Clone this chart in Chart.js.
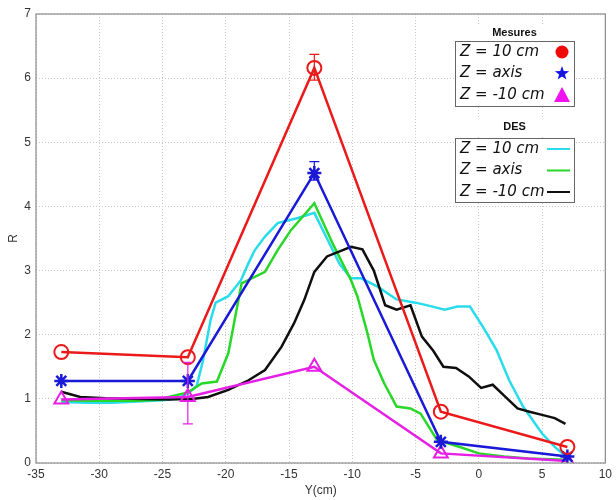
<!DOCTYPE html>
<html><head><meta charset="utf-8">
<script src="https://cdn.jsdelivr.net/npm/chart.js@4/dist/chart.umd.min.js"></script>
<style>html,body{margin:0;padding:0;background:#fff}#wrap{width:616px;height:500px}</style>
</head><body><div id="wrap"><canvas id="c" width="616" height="500"></canvas></div>
<script>
// Measurements
const mesX = [-33, -23, -13, -3, 7];
const mesZ10 = [1.73, 1.65, 6.16, 0.80, 0.25];
const mesAxis = [1.28, 1.28, 4.52, 0.33, 0.10];
const mesZm10 = [0.99, 1.03, 1.50, 0.15, 0.03];
// Error bars [x, low, high]
const errZ10 = [[-13, 5.97, 6.37]];
const errAxis = [[-13, 4.41, 4.70]];
const errZm10 = [[-23, 0.61, 1.57]];
// DES curves
const desZ10X = [-33,-31,-29,-27,-25,-24,-23,-22.3,-21.8,-21.2,-20.8,-19.8,-18.8,-18.2,-17.7,-16.9,-15.9,-14.3,-13,-12,-11,-10.1,-9.3,-8,-6.5,-5,-3.9,-2.7,-1.7,-0.7,0.4,1.4,2.4,3.5,5,6,6.9];
const desZ10Y = [0.95,0.94,0.94,0.96,0.98,1.0,1.08,1.2,1.6,2.23,2.5,2.6,2.85,3.12,3.32,3.53,3.74,3.82,3.9,3.5,3.1,2.88,2.88,2.75,2.55,2.5,2.45,2.39,2.44,2.44,2.1,1.76,1.29,0.88,0.46,0.25,0.1];
const desAxisX = [-33,-31,-29,-27,-25,-24.5,-23,-21.9,-20.7,-19.8,-19.3,-18.75,-16.9,-15.9,-14.85,-13,-11.5,-10.1,-9.6,-8.8,-8.3,-7.5,-6.5,-5.4,-4.6,-3.3,-1.5,0,2,3.9,6.9];
const desAxisY = [0.98,0.97,0.97,0.97,0.99,1.03,1.1,1.24,1.27,1.71,2.23,2.8,2.98,3.32,3.63,4.05,3.4,2.85,2.6,2.02,1.61,1.25,0.88,0.85,0.77,0.36,0.25,0.15,0.1,0.07,0.05];
const desZm10X = [-33,-31.5,-29.5,-27.6,-24.5,-22.5,-21.4,-19.8,-18.2,-16.9,-15.6,-14.6,-13.8,-13,-12,-10.1,-9.2,-8.3,-7.4,-6.5,-5.4,-4.5,-3.6,-2.8,-1.8,-0.8,0.18,1.1,2,3.06,4,5,6,6.85];
const desZm10Y = [1.11,1.03,1.01,1.0,0.99,1.0,1.03,1.14,1.29,1.45,1.81,2.18,2.54,2.98,3.22,3.37,3.33,3.0,2.46,2.39,2.46,1.97,1.75,1.5,1.48,1.35,1.17,1.22,1.05,0.85,0.8,0.75,0.7,0.61];
const xTicks = [-35,-30,-25,-20,-15,-10,-5,0,5,10];
const yTicks = [0,1,2,3,4,5,6,7];
const mesLabels = ['Z = 10 cm', 'Z = axis', 'Z = -10 cm'];
const desLabels = ['Z = 10 cm', 'Z = axis', 'Z = -10 cm'];

const RED='rgb(235,25,25)', BLUE='rgb(25,25,215)', MAG='rgb(230,30,230)';
const CYAN='rgb(40,220,235)', GREEN='rgb(40,215,40)', BLACK='rgb(15,15,15)';

const pts = (xs, ys) => xs.map((x,i)=>({x, y: ys[i]}));

const datasets = [
  {data: pts(mesX, mesZ10), borderColor: RED, pointStyle:'circle', pointRadius:7, pointBorderWidth:2, pointBackgroundColor:'rgba(0,0,0,0)', pointBorderColor:RED, order:1, err: errZ10},
  {data: pts(mesX, mesAxis), borderColor: BLUE, pointStyle:'star', pointRadius:7, pointBorderWidth:2.5, pointBackgroundColor:'rgba(0,0,0,0)', pointBorderColor:BLUE, order:2, err: errAxis},
  {data: pts(mesX, mesZm10), borderColor: MAG, pointStyle:'triangle', pointRadius:8, pointBorderWidth:2, pointBackgroundColor:'rgba(0,0,0,0)', pointBorderColor:MAG, order:3, err: errZm10},
  {data: pts(desZ10X, desZ10Y), borderColor: CYAN, pointRadius:0, order:6},
  {data: pts(desAxisX, desAxisY), borderColor: GREEN, pointRadius:0, order:5},
  {data: pts(desZm10X, desZm10Y), borderColor: BLACK, pointRadius:0, order:4},
].map(d => Object.assign({showLine:true, borderWidth:2.5, tension:0, pointHoverRadius:0}, d));

const deco = {
  id:'deco',
  afterDatasetsDraw(chart){
    const ctx = chart.ctx, xs = chart.scales.x, ys = chart.scales.y;
    chart.data.datasets.forEach(ds=>{
      (ds.err||[]).forEach(([x,lo,hi])=>{
        const px = xs.getPixelForValue(x), p1 = ys.getPixelForValue(lo), p2 = ys.getPixelForValue(hi);
        ctx.save(); ctx.strokeStyle = ds.borderColor; ctx.lineWidth = 1.2;
        ctx.beginPath(); ctx.moveTo(px,p1); ctx.lineTo(px,p2);
        ctx.moveTo(px-5,p1); ctx.lineTo(px+5,p1);
        ctx.moveTo(px-5,p2); ctx.lineTo(px+5,p2); ctx.stroke(); ctx.restore();
      });
    });
  },
  afterDraw(chart){
    const ctx = chart.ctx, a = chart.chartArea;
    ctx.save();
    ctx.strokeStyle = '#8a8a8a'; ctx.lineWidth = 1.2;
    ctx.strokeRect(a.left, a.top, a.right-a.left, a.bottom-a.top);
    const bx = 455, bw = 119;
    function box(title, ty, y0, h, labels, drawSym){
      ctx.fillStyle = '#fff';
      ctx.fillRect(bx-2, ty-8, bw+4, 16);
      ctx.fillRect(bx, y0, bw, h);
      ctx.strokeStyle = '#666'; ctx.lineWidth = 1;
      ctx.strokeRect(bx+0.5, y0+0.5, bw, h);
      ctx.fillStyle = '#111'; ctx.font = 'bold 11px "Liberation Sans", Arial';
      ctx.textAlign = 'center'; ctx.textBaseline = 'middle';
      ctx.fillText(title, bx + bw/2, ty);
      ctx.font = 'italic 15px "DejaVu Sans"'; ctx.textAlign = 'left';
      labels.forEach((l,i)=>{
        const y = y0 + 11 + i*21.5;
        ctx.fillStyle = '#111';
        ctx.fillText(l, bx + 5, y);
        drawSym(i, y);
      });
    }
    box('Mesures', 33, 41, 65, mesLabels, (i,y)=>{
      const cx = 562;
      if(i===0){ ctx.fillStyle = 'rgb(240,10,10)'; ctx.beginPath(); ctx.arc(cx,y,6.5,0,Math.PI*2); ctx.fill(); }
      if(i===1){ ctx.fillStyle = 'rgb(20,20,230)'; ctx.beginPath();
        for(let k=0;k<10;k++){ const r = k%2?3:7.5; const ang = -Math.PI/2 + k*Math.PI/5; ctx.lineTo(cx+r*Math.cos(ang), y+r*Math.sin(ang)); }
        ctx.closePath(); ctx.fill(); }
      if(i===2){ ctx.fillStyle = 'rgb(240,20,240)'; ctx.beginPath(); ctx.moveTo(cx, y-8); ctx.lineTo(cx+8, y+7); ctx.lineTo(cx-8, y+7); ctx.closePath(); ctx.fill(); }
    });
    box('DES', 127, 138, 64, desLabels, (i,y)=>{
      ctx.strokeStyle = [CYAN, GREEN, BLACK][i]; ctx.lineWidth = 2;
      ctx.beginPath(); ctx.moveTo(547, y); ctx.lineTo(570, y); ctx.stroke();
    });
    ctx.restore();
  }
};

new Chart(document.getElementById('c'), {
  type:'scatter',
  data:{datasets},
  plugins:[deco],
  options:{
    responsive:false, animation:false, devicePixelRatio:1,
    layout:{padding:{top:14, right:6, left:0, bottom:0}},
    plugins:{legend:{display:false}, tooltip:{enabled:false}},
    scales:{
      x:{type:'linear', min:-35, max:10,
        afterBuildTicks: s => { s.ticks = xTicks.map(v=>({value:v})); },
        afterFit: s => { s.height = 37; },
        grid:{color:'#c8c8c8', lineWidth:1, drawTicks:false},
        border:{display:false, dash:[1,2]},
        ticks:{color:'#333', font:{family:'"Liberation Sans", Arial', size:12}, padding:4, maxRotation:0},
        title:{display:true, text:'Y(cm)', color:'#333', font:{family:'"Liberation Sans", Arial', size:12}, padding:{top:0,bottom:2}}
      },
      y:{type:'linear', min:0, max:7,
        afterBuildTicks: s => { s.ticks = yTicks.map(v=>({value:v})); },
        afterFit: s => { s.width = 36; },
        grid:{color:'#c8c8c8', lineWidth:1, drawTicks:false},
        border:{display:false, dash:[1,2]},
        ticks:{color:'#333', font:{family:'"Liberation Sans", Arial', size:12}, padding:5},
        title:{display:true, text:'R', color:'#333', font:{family:'"Liberation Sans", Arial', size:12}, padding:{top:6,bottom:0}}
      }
    }
  }
});
</script>
</body></html>
